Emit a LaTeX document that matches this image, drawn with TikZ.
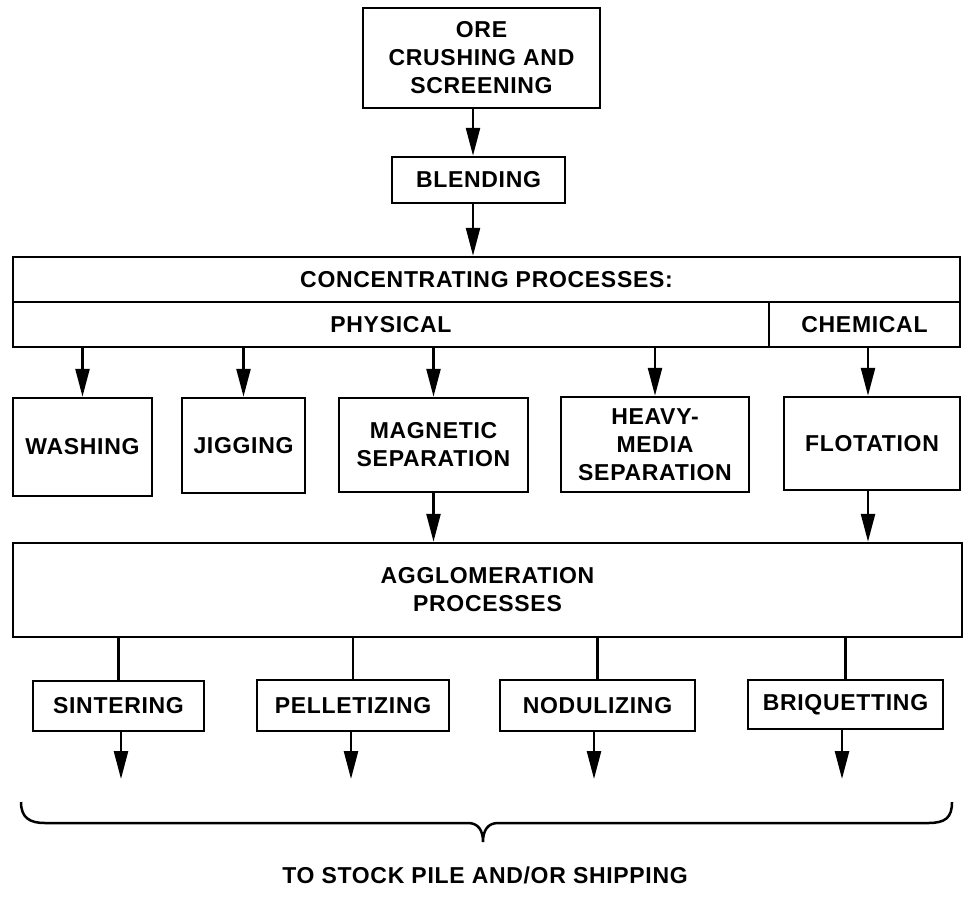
\documentclass[tikz,border=0pt]{standalone}
\usepackage{fontspec}
\setmainfont{Liberation Sans}[LetterSpace=3]
\usetikzlibrary{arrows.meta}
\begin{document}
\begin{tikzpicture}[x=1pt,y=-1pt,
  lbl/.style={font=\bfseries\fontsize{23}{28}\selectfont, align=center},
  box/.style={lbl, draw, line width=2.5pt, inner sep=0pt},
  flow/.style={line width=2.5pt, -{Triangle[length=28pt,width=14pt]}},
  link/.style={line width=2.5pt}]
\useasboundingbox (0,0) rectangle (965,898);

% preparation
\node[box, minimum width=237pt, minimum height=100pt] (ore) at (481.5,58) {ORE\\CRUSHING AND\\SCREENING};
\node[box, minimum width=173pt, minimum height=46pt] (blend) at (478.5,180) {BLENDING};

% concentrating header
\node[box, minimum width=947pt, minimum height=45pt] (conc) at (486.5,279.5) {CONCENTRATING PROCESSES:};
\node[box, minimum width=756pt, minimum height=45pt] (phys) at (391,324.5) {PHYSICAL};
\node[box, minimum width=191pt, minimum height=45pt] (chem) at (864.5,324.5) {CHEMICAL};

% concentrating methods
\node[box, minimum width=139pt, minimum height=98pt] (wash) at (82.5,447) {WASHING};
\node[box, minimum width=123pt, minimum height=95pt] (jig) at (243.5,445.5) {JIGGING};
\node[box, minimum width=189pt, minimum height=94pt] (mag) at (433.5,445) {MAGNETIC\\SEPARATION};
\node[box, minimum width=188pt, minimum height=95pt] (heavy) at (655,444.5) {HEAVY-\\MEDIA\\SEPARATION};
\node[box, minimum width=176pt, minimum height=93pt] (flot) at (872,443.5) {FLOTATION};

% agglomeration
\node[box, minimum width=949pt, minimum height=94pt] (aggl) at (487.5,590) {AGGLOMERATION\\PROCESSES};
\node[box, minimum width=171pt, minimum height=50pt] (sint) at (118.5,706) {SINTERING};
\node[box, minimum width=192pt, minimum height=51pt] (pell) at (353,705.5) {PELLETIZING};
\node[box, minimum width=195pt, minimum height=51pt] (nodu) at (597.5,705.5) {NODULIZING};
\node[box, minimum width=195pt, minimum height=49pt] (briq) at (845.5,704.5) {BRIQUETTING};

% column positions and free arrow ends
\coordinate (top) at (473,0);
\coordinate (fl) at (868,0);
\coordinate (o1) at (121,779);
\coordinate (o2) at (351,779);
\coordinate (o3) at (594,779);
\coordinate (o4) at (842,779);

% connectors
\draw[flow] (ore.south -| top) -- (blend.north -| top);
\draw[flow] (blend.south -| top) -- (conc.north -| top);
\draw[flow] (phys.south -| wash.north) -- (wash.north);
\draw[flow] (phys.south -| jig.north) -- (jig.north);
\draw[flow] (phys.south -| mag.north) -- (mag.north);
\draw[flow] (phys.south -| heavy.north) -- (heavy.north);
\draw[flow] (chem.south -| fl) -- (flot.north -| fl);
\draw[flow] (mag.south) -- (aggl.north -| mag.south);
\draw[flow] (flot.south -| fl) -- (aggl.north -| fl);
\draw[link] (aggl.south -| sint.north) -- (sint.north);
\draw[link] (aggl.south -| pell.north) -- (pell.north);
\draw[link] (aggl.south -| nodu.north) -- (nodu.north);
\draw[link] (aggl.south -| briq.north) -- (briq.north);
\draw[flow] (sint.south -| o1) -- (o1);
\draw[flow] (pell.south -| o2) -- (o2);
\draw[flow] (nodu.south -| o3) -- (o3);
\draw[flow] (briq.south -| o4) -- (o4);

% gathering brace
\draw[link] (21,802) .. controls (21,818) and (30,823) .. (45,823) -- (468,823)
  .. controls (478,823) and (483,830) .. (483,842)
  .. controls (483,830) and (488,823) .. (498,823) -- (928,823)
  .. controls (945,823) and (952,818) .. (952,802);
\node[lbl] (dest) at (485,875) {TO STOCK PILE AND/OR SHIPPING};
\end{tikzpicture}
\end{document}
